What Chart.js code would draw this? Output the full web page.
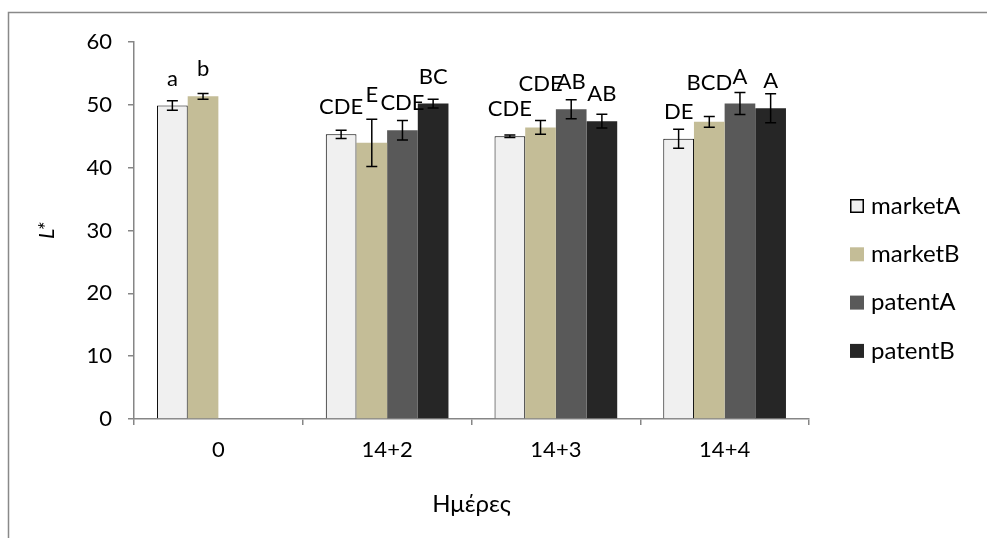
<!DOCTYPE html>
<html>
<head>
<meta charset="utf-8">
<script src="https://cdn.jsdelivr.net/npm/chart.js@4/dist/chart.umd.min.js"></script>
<style>
  html, body { margin: 0; padding: 0; background: #ffffff; }
  #chart { display: block; }
</style>
</head>
<body>
<canvas id="chart" width="987" height="538"></canvas>
<script>
// Day groups on the x axis
const categories = ['0', '14+2', '14+3', '14+4'];

// Mean L* per sample type
const marketA = [49.9, 45.3, 45.0, 44.6];
const marketB = [51.35, 43.95, 46.4, 47.3];
const patentA = [null, 45.95, 49.3, 50.2];
const patentB = [null, 50.2, 47.4, 49.45];

// Standard deviations (± around the mean)
const marketAErr = [0.75, 0.65, 0.2, 1.5];
const marketBErr = [0.45, 3.75, 1.1, 0.85];
const patentAErr = [null, 1.55, 1.5, 1.75];
const patentBErr = [null, 0.7, 1.1, 2.3];

// Significance letters above each bar
const marketALetters = ['a', 'CDE', 'CDE', 'DE'];
const marketBLetters = ['b', 'E', 'CDE', 'BCD'];
const patentALetters = [null, 'CDE', 'AB', 'A'];
const patentBLetters = [null, 'BC', 'AB', 'A'];

// Y axis tick values
const yTicks = [0, 10, 20, 30, 40, 50, 60];

const FONT = 'Lato, "Open Sans", sans-serif';
const AXIS_GREY = '#868686';

// Extra lift (px) for letters that were nudged up to clear neighbouring text
const letterLift = [
  [0, 0, 0, 0],
  [0, 21, 17, 12],
  [0, 0, 0, 0],
  [0, 0, 0, 0]
];

const errorSets = [marketAErr, marketBErr, patentAErr, patentBErr];
const letterSets = [marketALetters, marketBLetters, patentALetters, patentBLetters];

// White page with the grey outline of the chart frame
const framePlugin = {
  id: 'frame',
  beforeDraw(chart) {
    const c = chart.ctx;
    c.save();
    c.fillStyle = '#ffffff';
    c.fillRect(0, 0, chart.width, chart.height);
    c.strokeStyle = '#898989';
    c.lineWidth = 1.5;
    c.beginPath();
    c.moveTo(8.5, chart.height);
    c.lineTo(8.5, 12.5);
    c.lineTo(chart.width, 12.5);
    c.stroke();
    c.restore();
  }
};

// Error bars and significance letters
const errorLetterPlugin = {
  id: 'errorLetters',
  afterDatasetsDraw(chart) {
    const c = chart.ctx;
    const y = chart.scales.y;
    c.save();
    chart.data.datasets.forEach((ds, i) => {
      const meta = chart.getDatasetMeta(i);
      ds.data.forEach((v, j) => {
        if (v === null || v === undefined) return;
        const bar = meta.data[j];
        const x = bar.x;
        const err = errorSets[i][j];
        if (err) {
          const top = y.getPixelForValue(v + err);
          const bot = y.getPixelForValue(v - err);
          c.strokeStyle = '#000000';
          c.lineWidth = 1.5;
          c.beginPath();
          c.moveTo(x, top); c.lineTo(x, bot);
          c.moveTo(x - 5.5, top); c.lineTo(x + 5.5, top);
          c.moveTo(x - 5.5, bot); c.lineTo(x + 5.5, bot);
          c.stroke();
        }
        const letter = letterSets[i][j];
        if (letter) {
          c.fillStyle = '#000000';
          c.font = '22px ' + FONT;
          c.textAlign = 'center';
          c.textBaseline = 'middle';
          c.fillText(letter, x, bar.y - 27 - letterLift[i][j]);
        }
      });
    });
    c.restore();
  }
};

// Legend column to the right of the plot
const sideLegendPlugin = {
  id: 'sideLegend',
  afterDraw(chart) {
    const c = chart.ctx;
    c.save();
    chart.data.datasets.forEach((ds, i) => {
      const cy = 206 + i * 48.3;
      const bx = 850, size = 14;
      c.fillStyle = ds.backgroundColor;
      c.fillRect(bx, cy - size / 2, size, size);
      if (ds.borderWidth) {
        c.strokeStyle = '#000000';
        c.lineWidth = 1.5;
        c.strokeRect(bx + 0.75, cy - size / 2 + 0.75, size - 1.5, size - 1.5);
      }
      c.fillStyle = '#000000';
      c.font = '24px ' + FONT;
      c.textAlign = 'left';
      c.textBaseline = 'middle';
      c.fillText(ds.label, 871, cy);
    });
    c.restore();
  }
};

new Chart(document.getElementById('chart'), {
  type: 'bar',
  data: {
    labels: categories,
    datasets: [
      { label: 'marketA', data: marketA, backgroundColor: '#f0f0f0', borderColor: '#000000', borderWidth: 1 },
      { label: 'marketB', data: marketB, backgroundColor: '#c4bd97', borderWidth: 0 },
      { label: 'patentA', data: patentA, backgroundColor: '#595959', borderWidth: 0 },
      { label: 'patentB', data: patentB, backgroundColor: '#262626', borderWidth: 0 }
    ]
  },
  options: {
    responsive: false,
    animation: false,
    devicePixelRatio: 1,
    layout: { padding: { top: 42, right: 178, bottom: 0, left: 0 } },
    datasets: { bar: { categoryPercentage: 0.727, barPercentage: 1.0 } },
    plugins: { legend: { display: false }, tooltip: { enabled: false } },
    scales: {
      x: {
        grid: { offset: true, drawOnChartArea: false, drawTicks: true, tickLength: 6, color: AXIS_GREY, lineWidth: 1.5 },
        border: { color: AXIS_GREY, width: 1.5 },
        ticks: { color: '#000000', font: { family: FONT, size: 22 }, padding: 12, maxRotation: 0 },
        title: { display: true, text: 'Ημέρες', color: '#000000', font: { family: FONT, size: 24 }, padding: { top: 0, bottom: 19 } },
        afterFit(scale) { scale.height = 119; }
      },
      y: {
        min: 0, max: 60,
        afterBuildTicks(scale) { scale.ticks = yTicks.map(v => ({ value: v })); },
        grid: { drawOnChartArea: false, drawTicks: true, tickLength: 6, color: AXIS_GREY, lineWidth: 1.5 },
        border: { color: AXIS_GREY, width: 1.5 },
        ticks: { color: '#000000', font: { family: FONT, size: 22 }, padding: 16 },
        title: { display: true, text: 'L*', color: '#000000', font: { family: FONT, size: 22, style: 'italic' }, padding: { top: 34, bottom: 0 } },
        afterFit(scale) { scale.width = 134; }
      }
    }
  },
  plugins: [framePlugin, errorLetterPlugin, sideLegendPlugin]
});
</script>
</body>
</html>
